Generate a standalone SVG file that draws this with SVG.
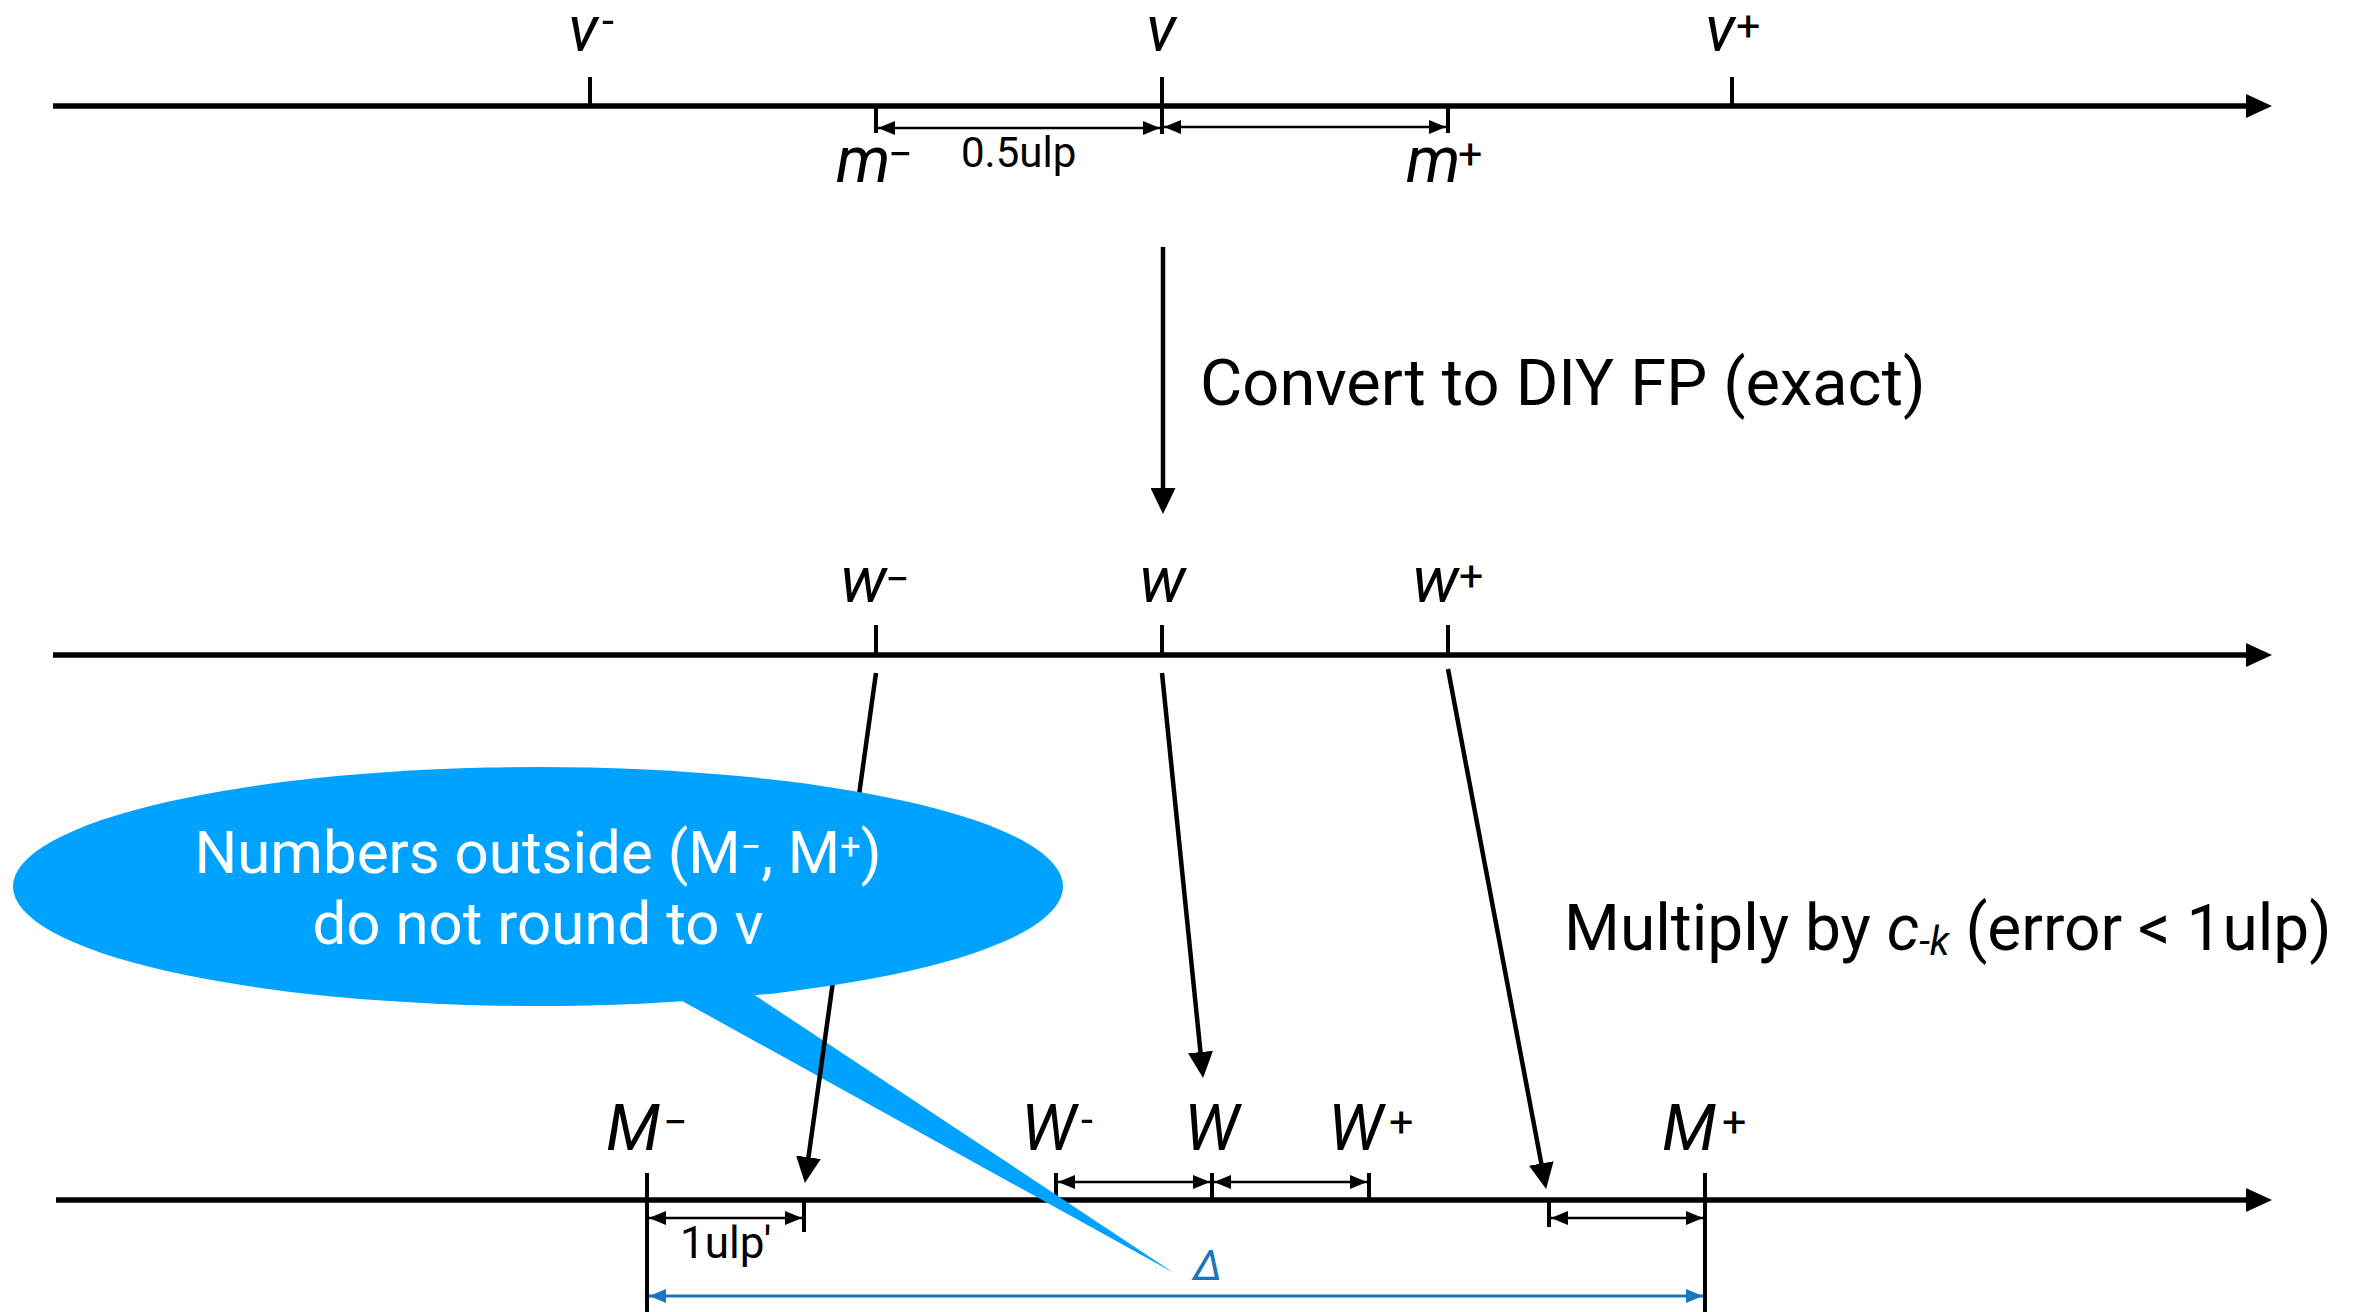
<svg xmlns="http://www.w3.org/2000/svg" width="2372" height="1312" viewBox="0 0 2372 1312">
<style>
text{font-family:Roboto,"Liberation Sans",Arial,sans-serif;fill:#000}
.lbl{font-size:64px;font-style:italic}
.sup{font-size:43px;font-style:normal}
.axis{stroke:#000;stroke-width:5.5;fill:none}
.tick{stroke:#000;stroke-width:4;fill:none}
.dim{stroke:#000;stroke-width:2.5;fill:none}
.conn{stroke:#000;stroke-width:4.5;fill:none}
.blue{fill:#1676BE}
.callout{fill:#00A2FF}
.wt{fill:#fff;font-size:60px}
</style>
<defs>
<marker id="axisHead" markerUnits="userSpaceOnUse" markerWidth="26" markerHeight="24" viewBox="0 0 26 24" refX="16" refY="12" orient="auto"><path d="M0,0 L26,12 L0,24 z" fill="#000"/></marker>
<marker id="arrowHead" markerUnits="userSpaceOnUse" markerWidth="26" markerHeight="25" viewBox="0 0 26 25" refX="15" refY="12.5" orient="auto"><path d="M0,0 L26,12.5 L0,25 z" fill="#000"/></marker>
<marker id="dimHead" markerUnits="userSpaceOnUse" markerWidth="17" markerHeight="14" viewBox="0 0 17 14" refX="17" refY="7" orient="auto-start-reverse"><path d="M0,0 L17,7 L0,14 z" fill="#000"/></marker>
<marker id="dimHeadBlue" markerUnits="userSpaceOnUse" markerWidth="17" markerHeight="14" viewBox="0 0 17 14" refX="17" refY="7" orient="auto-start-reverse"><path d="M0,0 L17,7 L0,14 z" fill="#1676BE"/></marker>
</defs>
<rect width="2372" height="1312" fill="#fff"/>

<g id="axis-top">
<line class="axis" x1="53" y1="106" x2="2262" y2="106" marker-end="url(#axisHead)"/>
<line class="tick" x1="590" y1="77" x2="590" y2="106"/>
<line class="tick" x1="1162" y1="77" x2="1162" y2="134"/>
<line class="tick" x1="1732" y1="77" x2="1732" y2="106"/>
<line class="tick" x1="876" y1="106" x2="876" y2="133"/>
<line class="tick" x1="1448" y1="106" x2="1448" y2="133"/>
</g>
<g id="label-v-minus"><text class="lbl" x="568" y="51">v</text><text class="sup" x="602" y="35">-</text></g>
<g id="label-v"><text class="lbl" x="1146" y="51">v</text></g>
<g id="label-v-plus"><text class="lbl" x="1705" y="51">v</text><text class="sup" x="1736" y="41">+</text></g>
<g id="label-m-minus"><text class="lbl" x="836" y="182">m</text><text class="sup" x="888" y="169">−</text></g>
<g id="label-m-plus"><text class="lbl" x="1406" y="182">m</text><text class="sup" x="1458" y="169">+</text></g>
<g id="label-half-ulp"><text x="961" y="167" font-size="42">0.5ulp</text></g>

<g id="axis-middle">
<line class="axis" x1="53" y1="655" x2="2262" y2="655" marker-end="url(#axisHead)"/>
<line class="tick" x1="876" y1="625" x2="876" y2="655"/>
<line class="tick" x1="1162" y1="625" x2="1162" y2="655"/>
<line class="tick" x1="1448" y1="625" x2="1448" y2="655"/>
</g>
<g id="label-w-minus"><text class="lbl" x="840" y="602">w</text><text class="sup" x="885" y="594">−</text></g>
<g id="label-w"><text class="lbl" x="1139" y="602">w</text></g>
<g id="label-w-plus"><text class="lbl" x="1412" y="602">w</text><text class="sup" x="1459" y="591">+</text></g>

<g id="axis-bottom">
<line class="axis" x1="56" y1="1200" x2="2262" y2="1200" marker-end="url(#axisHead)"/>
<line class="tick" x1="647" y1="1173" x2="647" y2="1312"/>
<line class="tick" x1="804" y1="1200" x2="804" y2="1232"/>
<line class="tick" x1="1056" y1="1173" x2="1056" y2="1200"/>
<line class="tick" x1="1212" y1="1173" x2="1212" y2="1200"/>
<line class="tick" x1="1369" y1="1173" x2="1369" y2="1200"/>
<line class="tick" x1="1549" y1="1200" x2="1549" y2="1227"/>
<line class="tick" x1="1705" y1="1173" x2="1705" y2="1312"/>
</g>
<g id="label-M-minus"><text class="lbl" x="606" y="1150">M</text><text class="sup" x="663" y="1137">−</text></g>
<g id="label-W-minus"><text class="lbl" x="1021" y="1150">W</text><text class="sup" x="1081" y="1134">-</text></g>
<g id="label-W"><text class="lbl" x="1184" y="1150">W</text></g>
<g id="label-W-plus"><text class="lbl" x="1328" y="1150">W</text><text class="sup" x="1389" y="1137">+</text></g>
<g id="label-M-plus"><text class="lbl" x="1662" y="1150">M</text><text class="sup" x="1722" y="1137">+</text></g>
<g id="label-ulp-prime"><text x="680" y="1258" font-size="44">1ulp'</text></g>
<g id="label-delta"><text class="blue" x="1193" y="1280" font-size="43" font-style="italic">Δ</text></g>

<g id="step-labels">
<text x="1200" y="405" font-size="65">Convert to DIY FP (exact)</text>
<text x="1564" y="950" font-size="64">Multiply by <tspan font-style="italic">c</tspan><tspan font-style="italic" font-size="40" dy="5">-k</tspan><tspan dy="-5"> (error &lt; 1ulp)</tspan></text>
</g>

<g id="callout-tail">
<polygon class="callout" points="683,985 683,1001.4 1174,1273 755,995.3 755,985"/>
</g>

<g id="connectors">
<line class="conn" x1="1163" y1="247" x2="1163" y2="503" marker-end="url(#arrowHead)"/>
<line class="conn" x1="876" y1="673" x2="806.4" y2="1172.1" marker-end="url(#arrowHead)"/>
<line class="conn" x1="1162" y1="673" x2="1202" y2="1067" marker-end="url(#arrowHead)"/>
<line class="conn" x1="1448" y1="669" x2="1544.1" y2="1178.2" marker-end="url(#arrowHead)"/>
<line class="dim" x1="878" y1="128" x2="1160" y2="128" marker-start="url(#dimHead)" marker-end="url(#dimHead)"/>
<line class="dim" x1="1164" y1="127" x2="1446" y2="127" marker-start="url(#dimHead)" marker-end="url(#dimHead)"/>
<line class="dim" x1="1058" y1="1182" x2="1210" y2="1182" marker-start="url(#dimHead)" marker-end="url(#dimHead)"/>
<line class="dim" x1="1214" y1="1182" x2="1367" y2="1182" marker-start="url(#dimHead)" marker-end="url(#dimHead)"/>
<line class="dim" x1="649" y1="1218" x2="802" y2="1218" marker-start="url(#dimHead)" marker-end="url(#dimHead)"/>
<line class="dim" x1="1551" y1="1218" x2="1703" y2="1218" marker-start="url(#dimHead)" marker-end="url(#dimHead)"/>
<line x1="649" y1="1296" x2="1703" y2="1296" stroke="#1676BE" stroke-width="3" marker-start="url(#dimHeadBlue)" marker-end="url(#dimHeadBlue)"/>
</g>

<g id="callout">
<ellipse class="callout" cx="538" cy="886.5" rx="525" ry="119.5"/>
<text class="wt" x="538" y="873" text-anchor="middle">Numbers outside (M<tspan font-size="36" dy="-14">−</tspan><tspan dy="14">, M</tspan><tspan font-size="36" dy="-14">+</tspan><tspan dy="14">)</tspan></text>
<text class="wt" x="538" y="944" text-anchor="middle">do not round to v</text>
</g>
</svg>
